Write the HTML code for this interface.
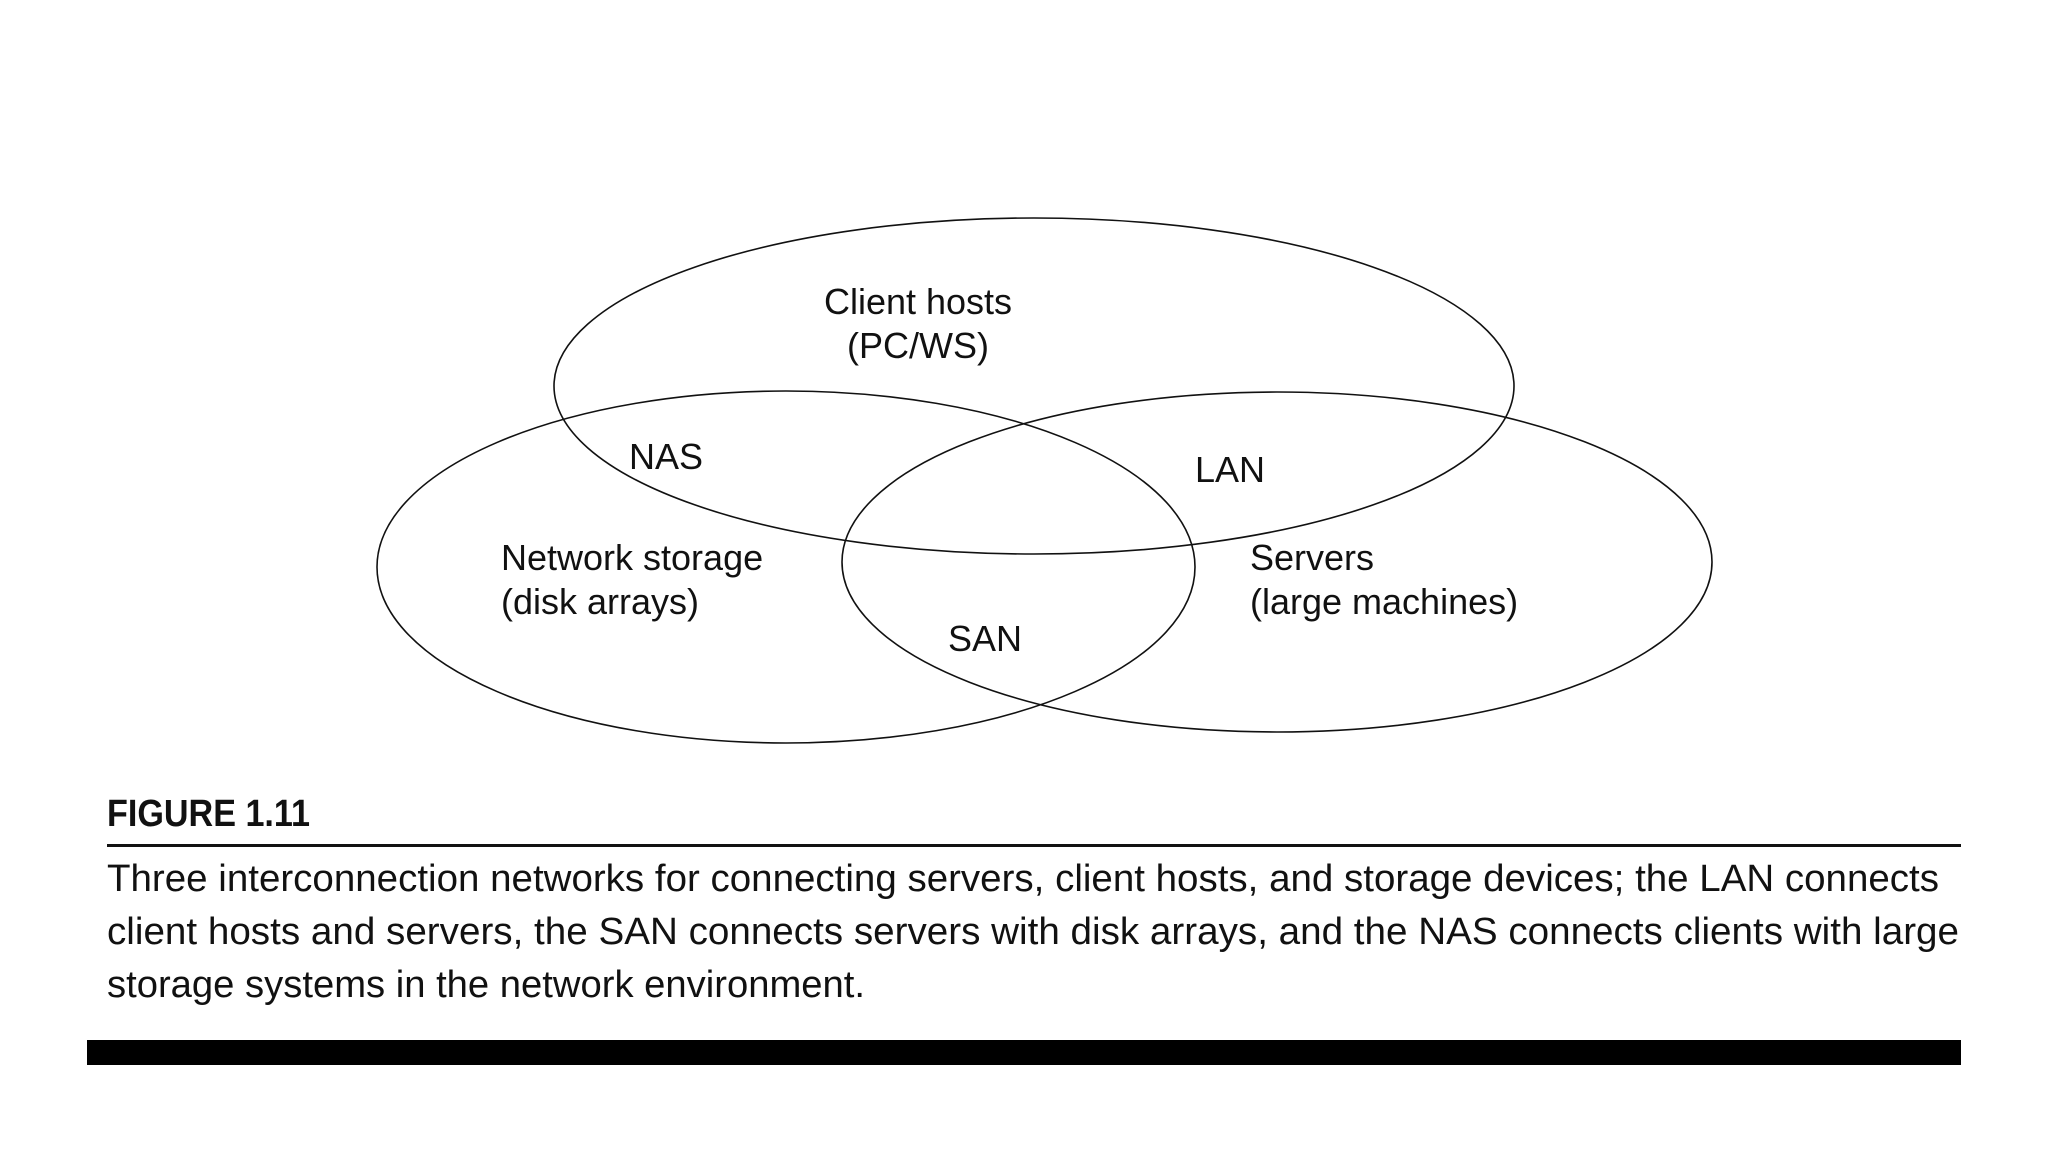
<!DOCTYPE html>
<html><head><meta charset="utf-8"><style>
html,body{margin:0;padding:0;background:#fff;}
svg{display:block;}
.d{font-family:"Liberation Sans",sans-serif;font-size:36px;fill:#111;}
.c{font-family:"Liberation Sans Narrow","Liberation Sans",sans-serif;font-size:38px;fill:#111;}
</style></head><body>
<svg width="2048" height="1152" viewBox="0 0 2048 1152" xmlns="http://www.w3.org/2000/svg">
<g fill="none" stroke="#111" stroke-width="1.6">
<ellipse cx="1034" cy="386" rx="480" ry="168"/>
<ellipse cx="786" cy="567" rx="409" ry="176"/>
<ellipse cx="1277" cy="562" rx="435" ry="170"/>
</g>
<text class="d" x="918" y="314" text-anchor="middle">Client hosts</text>
<text class="d" x="918" y="358" text-anchor="middle">(PC/WS)</text>
<text class="d" x="629" y="469">NAS</text>
<text class="d" x="1195" y="482">LAN</text>
<text class="d" x="501" y="570">Network storage</text>
<text class="d" x="501" y="614">(disk arrays)</text>
<text class="d" x="1250" y="570">Servers</text>
<text class="d" x="1250" y="614">(large machines)</text>
<text class="d" x="948" y="651">SAN</text>
<text x="107" y="826" font-family="Liberation Sans Narrow,Liberation Sans,sans-serif" font-weight="bold" font-size="38" fill="#111" textLength="203" lengthAdjust="spacingAndGlyphs">FIGURE 1.11</text>
<rect x="107" y="844" width="1854" height="3" fill="#111"/>
<text class="c" x="107" y="891" textLength="1832" lengthAdjust="spacingAndGlyphs">Three interconnection networks for connecting servers, client hosts, and storage devices; the LAN connects</text>
<text class="c" x="107" y="944" textLength="1852" lengthAdjust="spacingAndGlyphs">client hosts and servers, the SAN connects servers with disk arrays, and the NAS connects clients with large</text>
<text class="c" x="107" y="997" textLength="758" lengthAdjust="spacingAndGlyphs">storage systems in the network environment.</text>
<rect x="87" y="1040" width="1874" height="25" fill="#000"/>
</svg>
</body></html>
